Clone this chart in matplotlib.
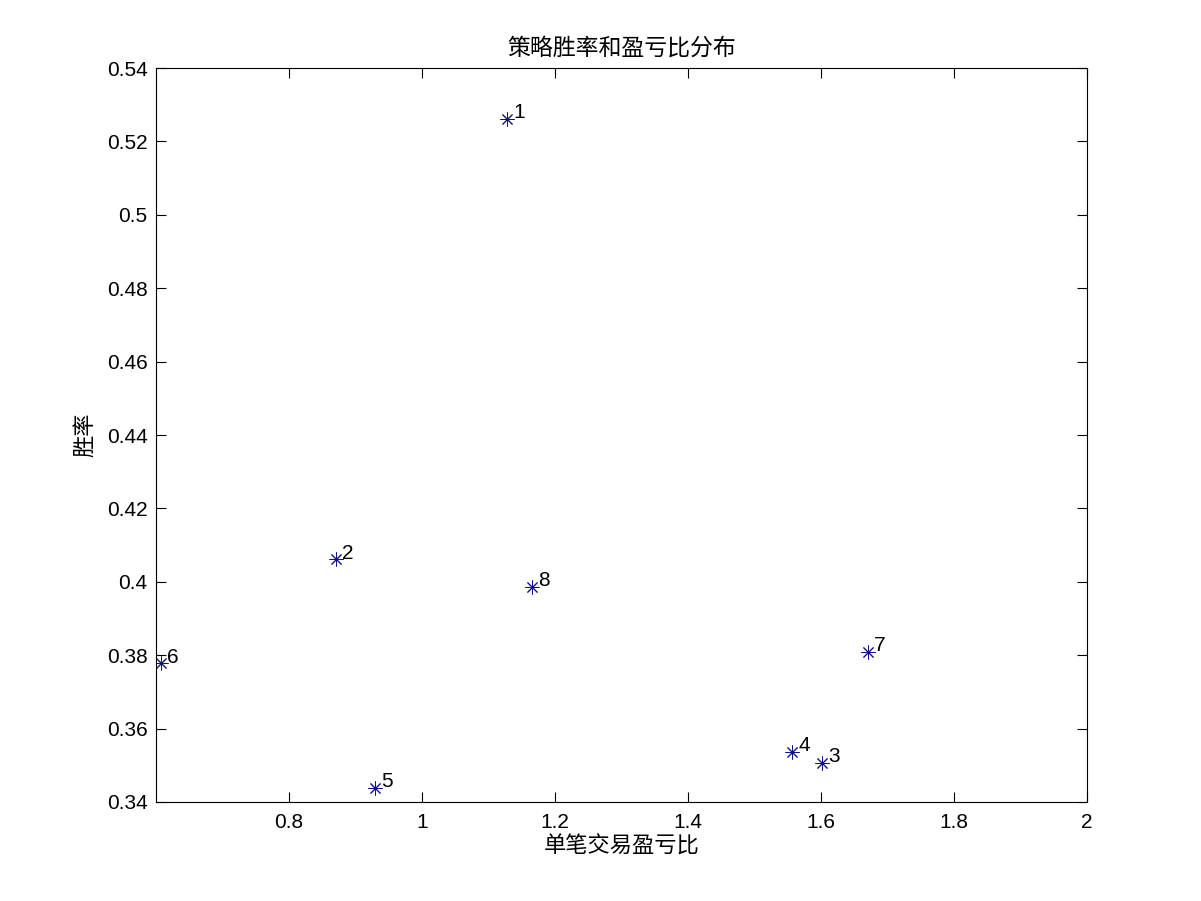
import matplotlib.pyplot as plt

# Chart data
labels = ['1', '2', '3', '4', '5', '6', '7', '8']
profit_loss_ratio = [1.128, 0.871, 1.601, 1.557, 0.929, 0.607, 1.670, 1.165]
win_rate = [0.5262, 0.4061, 0.3507, 0.3537, 0.3439, 0.3778, 0.3810, 0.3986]
x_ticks = [0.8, 1.0, 1.2, 1.4, 1.6, 1.8, 2.0]
x_tick_labels = ['0.8', '1', '1.2', '1.4', '1.6', '1.8', '2']
y_ticks = [0.34, 0.36, 0.38, 0.40, 0.42, 0.44, 0.46, 0.48, 0.50, 0.52, 0.54]
y_tick_labels = ['0.34', '0.36', '0.38', '0.4', '0.42', '0.44', '0.46', '0.48', '0.5', '0.52', '0.54']

cjk = ['Noto Sans CJK SC', 'DejaVu Sans']
num_font = 'Liberation Sans'

fig = plt.figure(figsize=(12.01, 9.01), dpi=100)
ax = fig.add_axes([0.1299, 0.1099, 0.7752, 0.8146])

# MATLAB style asterisk markers
ax.plot(profit_loss_ratio, win_rate, linestyle='none', marker=(8, 2, 0),
        markersize=10, markeredgewidth=0.7, color='#10108a')

for lbl, x, y in zip(labels, profit_loss_ratio, win_rate):
    ax.annotate(lbl, (x, y), xytext=(4.5, 4.5), textcoords='offset points',
                ha='left', va='center', fontsize=15, family=num_font)

ax.set_xlim(0.6, 2.0)
ax.set_ylim(0.34, 0.54)
ax.set_xticks(x_ticks)
ax.set_xticklabels(x_tick_labels, family=num_font, fontsize=15)
ax.set_yticks(y_ticks)
ax.set_yticklabels(y_tick_labels, family=num_font, fontsize=15)
ax.tick_params(direction='in', length=7, width=0.8, top=True, right=True)
ax.tick_params(axis='x', pad=8)
ax.tick_params(axis='y', pad=6)

for spine in ax.spines.values():
    spine.set_linewidth(0.8)

ax.set_title('策略胜率和盈亏比分布', family=cjk, fontsize=16.5, pad=10)
ax.set_xlabel('单笔交易盈亏比', family=cjk, fontsize=16, labelpad=2)
ax.set_ylabel('胜率', family=cjk, fontsize=16, labelpad=8)

fig.savefig('out.png', dpi=100)
